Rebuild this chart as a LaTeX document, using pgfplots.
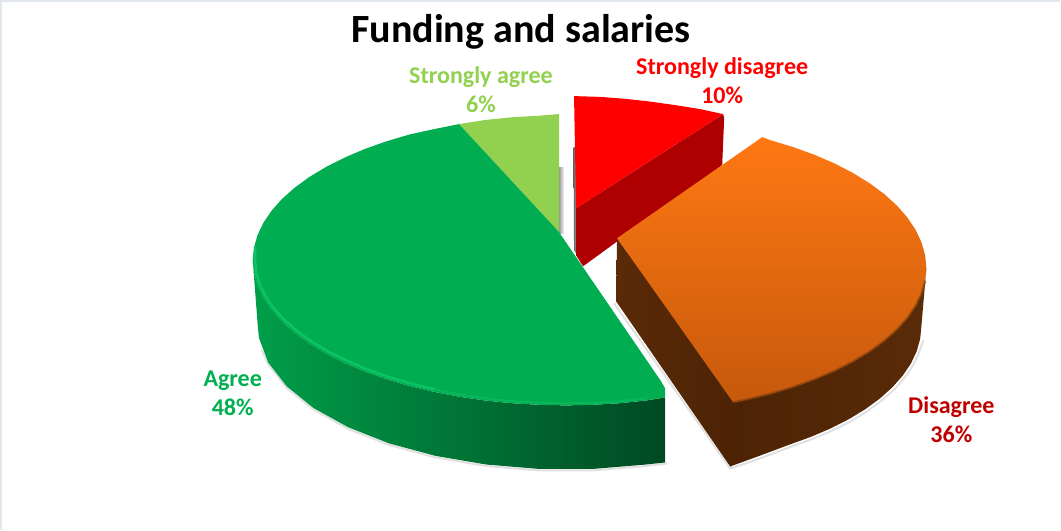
\documentclass[border=0pt]{standalone}
\usepackage{fontspec}
\setmainfont{Carlito}
\usepackage{pgfplots}
\pgfplotsset{compat=1.18}

\definecolor{sagree}{HTML}{92D050}
\definecolor{agree}{HTML}{00AD50}
\definecolor{agreetxt}{HTML}{00B050}
\definecolor{sdis}{HTML}{FF0000}
\definecolor{sdisside}{HTML}{AE0000}
\definecolor{distxt}{HTML}{C00000}

\begin{document}
\begin{tikzpicture}
\begin{axis}[
    scale only axis,
    width=1061pt,height=529pt,
    xmin=-1.5,xmax=1059.5,ymin=0,ymax=529,
    y dir=reverse,
    axis lines=none,
    clip=false]

% frame
\addplot[draw={rgb,255:red,226;green,231;blue,237},line width=2pt] coordinates {(1.5,529) (1.5,1) (1059.5,1)};

% strongly agree
\addplot[draw=none,left color=black!40,right color=black!3] coordinates {(559,167) (564,167) (564,233) (559,233)} -- cycle;
\addplot[draw=none,fill=sagree] coordinates {(459,124) (485,119.9) (511.7,117.2) (538.7,115.6) (559,114) (559,233)} -- cycle;

% strongly disagree
\addplot[draw=none,left color=black!60,right color=black!35] coordinates {(573.5,147) (577,147) (577,255) (574,250)} -- cycle;
\addplot[draw=none,fill=sdisside] coordinates {(576,208) (723,114) (724,118) (722,165) (583,266) (576,255)} -- cycle;
\addplot[draw=none,fill=sdis] coordinates {(574,96) (600,96.8) (625,98.7) (650,101.5) (675,105) (700,109) (723,114) (576,208)} -- cycle;

% agree: soft shadow, side wall, top
\addplot[draw=black!40,opacity=0.3,line width=2pt] coordinates {(262,350) (268.5,364) (286.9,387.5) (313.7,409) (348.2,428.5) (389.3,444.5) (435.8,457) (486.3,465.6) (539.2,470) (592.8,470) (645.7,465.6) (667,463)};
\addplot[draw=none,left color=agree!92!black,middle color=agree!70!black,right color=agree!42!black] coordinates {
    (253,260) (254.2,272.6) (257.8,285.2) (263.7,297.5) (271.9,309.6) (282.3,321.3) (294.9,332.5) (309.6,343.2)
    (326.2,353.2) (344.7,362.5) (364.8,371.1) (386.5,378.8) (409.5,385.6) (433.7,391.4) (459,396.3) (485,400.1)
    (511.7,402.8) (538.7,404.4) (566,405) (593.3,404.4) (620.3,402.8) (647,400) (665,397)
    (665,462) (645.7,464.1) (592.8,468.5) (539.2,468.5) (486.3,464.1) (435.8,455.5) (389.3,443) (348.2,426.8)
    (313.7,407.6) (286.9,385.9) (268.5,362.3) (259.2,337.6) (258,325)} -- cycle;
\addplot[draw=none,fill=agree] coordinates {
    (559,232) (661,381) (665,388) (665,397) (647,400) (620.3,402.8) (593.3,404.4) (566,405) (538.7,404.4)
    (511.7,402.8) (485,400.1) (459,396.3) (433.7,391.4) (409.5,385.6) (386.5,378.8) (364.8,371.1) (344.7,362.5)
    (326.2,353.2) (309.6,343.2) (294.9,332.5) (282.3,321.3) (271.9,309.6) (263.7,297.5) (257.8,285.2) (254.2,272.6)
    (253,260) (254.2,247.4) (257.8,234.8) (263.7,222.5) (271.9,210.4) (282.3,198.7) (294.9,187.5) (309.6,176.8)
    (326.2,166.8) (344.7,157.5) (364.8,148.9) (386.5,141.2) (409.5,134.4) (434,129) (459,124)} -- cycle;
% rim highlight
\addplot[draw={rgb,255:red,12;green,196;blue,99},line width=2.5pt,line cap=round] coordinates {
    (255.5,247) (255.5,260) (256.5,272.6) (260,284) (266,296.5) (274,308) (284.5,319.5) (297,330.5) (311.5,341)
    (328,351) (346.5,360) (366,368.5) (387.5,376.3) (410.5,383) (434.5,389)};
\addplot[draw={rgb,255:red,8;green,184;blue,90},line width=2pt] coordinates {
    (434.5,389) (459.5,394) (485.5,398) (512,400.8) (539,402.4) (566,403) (593,402.4) (620,400.8) (647,398)};

% disagree: shadow, walls, top
\addplot[draw=black!40,opacity=0.3,line width=2pt] coordinates {(923,340) (918.3,353) (912.5,365.3) (904.4,377.2) (894.1,388.9) (881.7,400) (867.3,410.6) (850.9,420.6) (832.8,429.8) (813,438.3) (791.7,446) (769,454.5) (750,461.5) (730,468) (614,303)};
\addplot[draw=none,left color={rgb,255:red,76;green,35;blue,4},right color={rgb,255:red,90;green,43;blue,8}] coordinates {
    (733,402) (745.3,399.4) (769.5,393.6) (792.5,386.8) (814.2,379.1) (834.3,370.5) (852.8,361.2) (869.4,351.2)
    (884.1,340.5) (896.7,329.3) (907.1,317.6) (915.3,305.5) (921.2,293.2) (924.8,280.6) (926,268)
    (921,326) (919.8,338.6) (916.3,351) (910.5,363.3) (902.4,375.2) (892.1,386.9) (879.7,398) (865.3,408.6)
    (848.9,418.6) (830.8,427.8) (811,436.3) (789.7,444) (767,452.5) (748,459.5) (730,466)} -- cycle;
\addplot[draw=none,left color={rgb,255:red,91;green,42;blue,8},right color={rgb,255:red,76;green,35;blue,4}] coordinates {(617,238) (735,402) (732,465.5) (730,466) (616,301)} -- cycle;
\addplot[draw=none,top color={rgb,255:red,255;green,120;blue,19},bottom color={rgb,255:red,198;green,89;blue,12}] coordinates {
    (617,238) (762,137) (769.5,139.8) (792.5,146.8) (814.2,154.6) (834.3,163.3) (852.8,172.9) (869.4,183.1)
    (884.1,194) (896.7,205.5) (907.1,217.4) (915.3,229.7) (921.2,242.3) (924.8,255.1) (926,268) (924.8,280.6)
    (921.2,293.2) (915.3,305.5) (907.1,317.6) (896.7,329.3) (884.1,340.5) (869.4,351.2) (852.8,361.2) (834.3,370.5)
    (814.2,379.1) (792.5,386.8) (769.5,393.6) (745.3,399.4) (733,402)} -- cycle;
\addplot[draw={rgb,255:red,130;green,62;blue,10},opacity=0.7,line width=2pt] coordinates {
    (924.8,280.6) (921.2,293.2) (915.3,305.5) (907.1,317.6) (896.7,329.3) (884.1,340.5) (869.4,351.2) (852.8,361.2)
    (834.3,370.5) (814.2,379.1) (792.5,386.8) (769.5,393.6) (745.3,399.4) (733,402)};

% title and labels
\node[inner sep=0pt,font=\fontsize{40}{44}\selectfont\bfseries] at (axis cs:521,32) {Funding and salaries};
\node[inner sep=0pt,align=center,text=sagree,font=\fontsize{24}{29}\selectfont\bfseries] at (axis cs:481,90) {Strongly agree\\6\%};
\node[inner sep=0pt,align=center,text=sdis,font=\fontsize{24}{29}\selectfont\bfseries] at (axis cs:722,81) {Strongly disagree\\10\%};
\node[inner sep=0pt,align=center,text=agreetxt,font=\fontsize{24}{29}\selectfont\bfseries] at (axis cs:233,393) {Agree\\48\%};
\node[inner sep=0pt,align=center,text=distxt,font=\fontsize{24}{29}\selectfont\bfseries] at (axis cs:951,419) {Disagree\\36\%};
\end{axis}
\end{tikzpicture}
\end{document}
